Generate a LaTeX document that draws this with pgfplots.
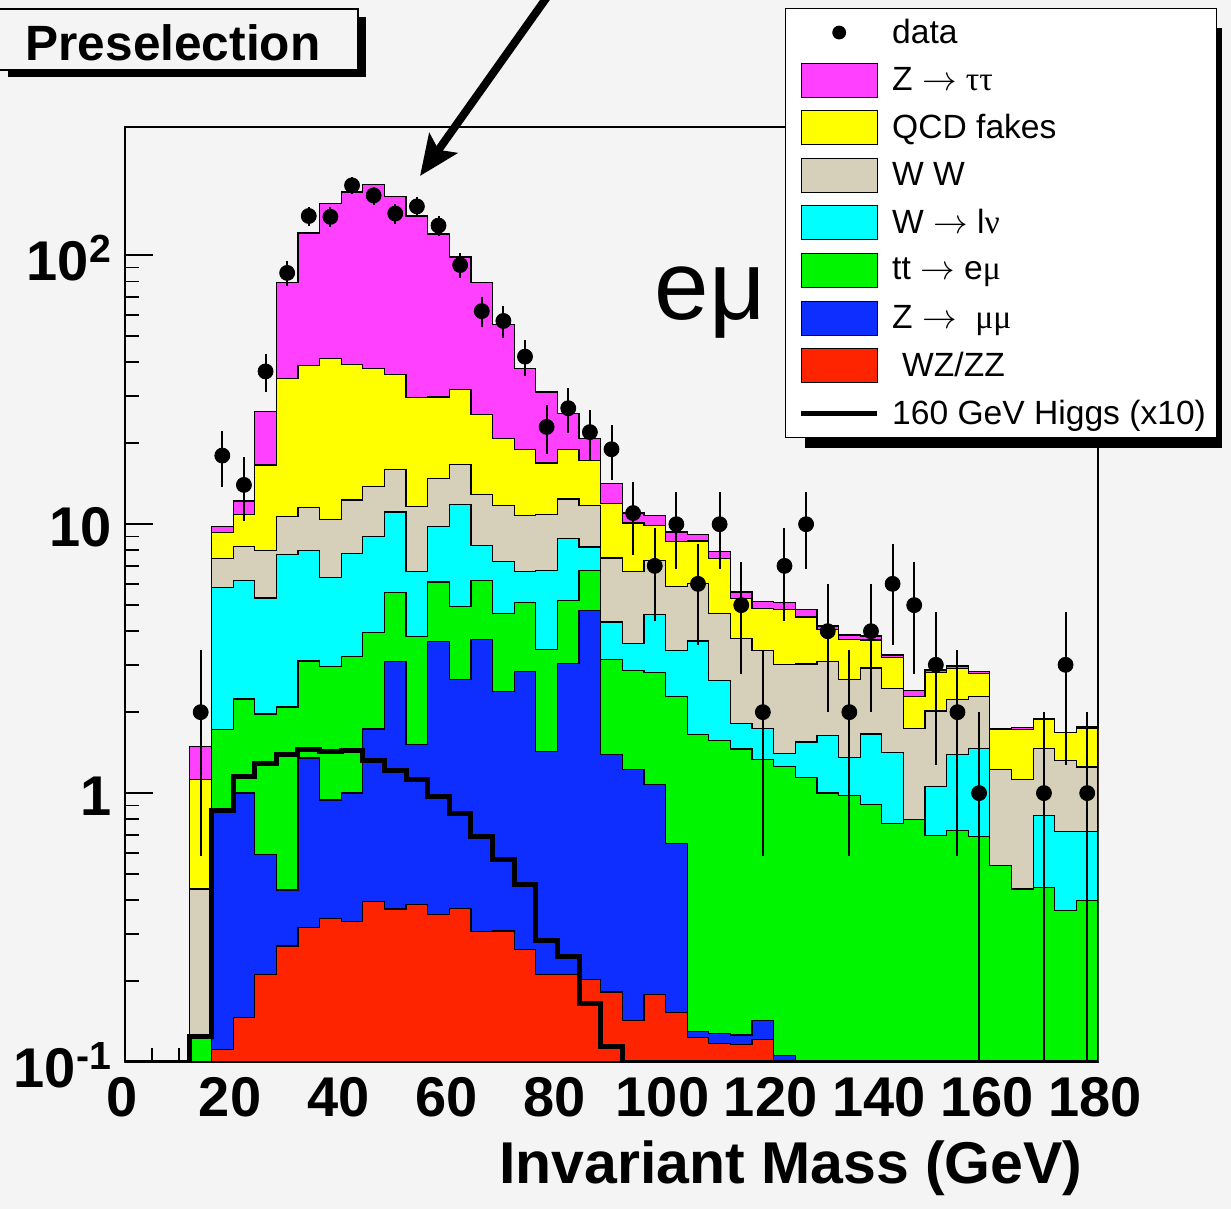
\documentclass[border=0pt]{standalone}
\usepackage{fontspec}
\setmainfont{Liberation Sans}
\newfontfamily\grk{Liberation Serif}
\usepackage{pgfplots}
\usepackage{pgfplotstable}
\pgfplotsset{compat=1.18}
\usetikzlibrary{arrows.meta}

\definecolor{bgcol}{RGB}{244,244,244}
\definecolor{cmag}{RGB}{255,64,255}
\definecolor{cyel}{RGB}{255,255,0}
\definecolor{ctan}{RGB}{214,207,185}
\definecolor{ccyan}{RGB}{0,255,255}
\definecolor{cgreen}{RGB}{0,245,0}
\definecolor{cblue}{RGB}{13,46,255}
\definecolor{cred}{RGB}{255,36,0}

% stacked (cumulative) tops per 4 GeV bin, x = left edge; 0.05 = empty (below axis)
\pgfplotstableread{
x   mag   yel   tan   cyan  green blue  red   higgs
0   0.05  0.05  0.05  0.05  0.05  0.05  0.05  0.1
4   0.05  0.05  0.05  0.05  0.05  0.05  0.05  0.1
8   0.05  0.05  0.05  0.05  0.05  0.05  0.05  0.1
12  1.49  1.12  0.44  0.124 0.124 0.05  0.05  0.124
16  9.83  9.32  7.46  5.82  1.72  0.877 0.111 0.865
20  12.2  10.9  8.28  6.16  2.24  1.00  0.146 1.15
24  26.2  16.6  7.96  5.32  1.97  0.592 0.211 1.29
28  79.2  34.8  10.7  7.72  2.09  0.436 0.270 1.39
32  121   38.8  11.5  8.00  3.10  1.35  0.316 1.45
36  156   41.2  10.4  6.32  2.95  0.942 0.342 1.43
40  172   39.3  12.3  7.78  3.23  1.00  0.334 1.44
44  183   37.9  13.8  8.97  3.95  1.73  0.395 1.32
48  166   36.1  16.0  11.1  5.59  3.08  0.371 1.21
52  140   29.5  11.6  6.65  3.83  1.52  0.386 1.12
56  120   29.7  14.8  9.83  6.10  3.66  0.353 0.969
60  98.6  31.7  16.7  11.8  4.93  2.65  0.373 0.843
64  79.2  25.6  12.9  8.35  6.17  3.73  0.305 0.690
68  55.3  20.8  11.7  7.26  4.66  2.38  0.307 0.564
72  37.9  19.0  10.8  6.67  5.11  2.84  0.262 0.457
76  31.0  16.9  10.9  6.75  3.42  1.43  0.212 0.284
80  25.8  18.9  12.4  8.85  5.20  3.04  0.212 0.246
84  20.8  17.3  11.7  8.23  6.75  4.76  0.203 0.165
88  14.2  11.9  7.49  4.33  3.14  1.39  0.182 0.114
92  11.0  10.1  6.65  3.60  2.85  1.22  0.143 0.1
96  10.8  9.92  7.35  4.60  2.81  1.08  0.178 0.1
100 9.36  8.60  5.88  3.39  2.28  0.648 0.153 0.1
104 9.13  8.66  6.03  3.68  1.65  0.130 0.123 0.1
108 7.94  7.46  4.66  2.63  1.57  0.128 0.117 0.1
112 5.60  5.28  3.76  1.81  1.46  0.126 0.116 0.1
116 5.16  4.86  3.38  1.74  1.33  0.143 0.121 0.1
120 5.13  4.81  3.01  1.40  1.26  0.106 0.05  0.1
124 4.82  4.52  3.02  1.55  1.14  0.05  0.05  0.1
128 4.18  4.06  3.08  1.64  1.00  0.05  0.05  0.1
132 3.87  3.73  2.65  1.36  0.977 0.05  0.05  0.1
136 3.84  3.71  2.92  1.66  0.908 0.05  0.05  0.1
140 3.26  3.20  2.45  1.42  0.772 0.05  0.05  0.1
144 2.40  2.28  1.74  0.800 0.800 0.05  0.05  0.1
148 2.87  2.81  2.02  1.06  0.694 0.05  0.05  0.1
152 2.97  2.91  2.23  1.39  0.724 0.05  0.05  0.1
156 2.84  2.79  2.29  1.47  0.688 0.05  0.05  0.1
160 1.73  1.72  1.22  0.537 0.537 0.05  0.05  0.1
164 1.75  1.72  1.12  0.440 0.440 0.05  0.05  0.1
168 1.90  1.88  1.47  0.823 0.445 0.05  0.05  0.1
172 1.68  1.675 1.32  0.722 0.365 0.05  0.05  0.1
176 1.76  1.74  1.25  0.722 0.400 0.05  0.05  0.1
180 1.76  1.74  1.25  0.722 0.400 0.05  0.05  0.1
}\stack

% data counts at bin centres, Poisson errors
\pgfplotstableread{
x   n    ep     em
14  2    1.414  1.414
18  18   4.243  4.243
22  14   3.742  3.742
26  37   6.083  6.083
30  86   9.274  9.274
34  140  11.83  11.83
38  139  11.79  11.79
42  182  13.49  13.49
46  167  12.92  12.92
50  143  11.96  11.96
54  152  12.33  12.33
58  129  11.36  11.36
62  92   9.592  9.592
66  62   7.874  7.874
70  57   7.550  7.550
74  42   6.481  6.481
78  23   4.796  4.796
82  27   5.196  5.196
86  22   4.690  4.690
90  19   4.359  4.359
94  11   3.317  3.317
98  7    2.646  2.646
102 10   3.162  3.162
106 6    2.449  2.449
110 10   3.162  3.162
114 5    2.236  2.236
118 2    1.414  1.414
122 7    2.646  2.646
126 10   3.162  3.162
130 4    2.000  2.000
134 2    1.414  1.414
138 4    2.000  2.000
142 6    2.449  2.449
146 5    2.236  2.236
150 3    1.732  1.732
154 2    1.414  1.414
158 1    1.000  0.999
170 1    1.000  0.999
174 3    1.732  1.732
178 1    1.000  0.999
}\data

\pgfplotsset{
  swatch/.style={legend image code/.code={
      \path[draw=none,fill=none] (0pt,-11.9pt) rectangle (44pt,11.9pt);
      \draw[fill=#1, line width=0.5pt] (3pt,-8.5pt) rectangle (41pt,8.5pt);}},
  histo/.style={const plot mark left, draw=black, line width=0.6pt, fill=#1, forget plot},
}

\begin{document}
\begin{tikzpicture}
% frame in pixel units of the reference (1 px = 0.5pt), origin at axis corner
\begin{scope}[x=0.5pt,y=-0.5pt,shift={(-62.5pt,531pt)}]
  \fill[bgcol] (0,0) rectangle (1231,1209);
  \fill[black] (805,28) rectangle (1222,448);
  \fill[black] (8,17) rectangle (366,77);
  \filldraw[fill=bgcol, draw=black, line width=0.6pt] (-2,9) rectangle (358,70);
  \node[font=\fontsize{24.8}{26}\selectfont\bfseries] at (173,43) {Preselection};
\end{scope}

\begin{axis}[
  at={(0,0)}, anchor=south west,
  scale only axis, width=486.5pt, height=467.5pt,
  xmin=0, xmax=180, ymode=log, ymin=0.1, ymax=300,
  log origin=infty,
  tick pos=left, tick align=inside,
  major tick length=14pt, minor tick length=7pt,
  axis line style={line width=0.75pt},
  every tick/.style={black, line width=0.8pt},
  xtick={0,20,...,180}, minor x tick num=3,
  xticklabels={0,20,40,60,80,100,120,140,160,180},
  ytick={0.1,1,10,100},
  yticklabels={10\textsuperscript{-1},1,10,10\textsuperscript{2}},
  tick label style={font=\fontsize{28}{30}\selectfont\bfseries},
  xticklabel style={yshift=-4pt, xshift=-1.5pt},
  yticklabel style={xshift=-3pt, yshift=-1.5pt},
  xlabel={Invariant Mass (GeV)},
  xlabel style={font=\fontsize{29.5}{31}\selectfont\bfseries,
    at={(rel axis cs:0.9915,0)}, anchor=base east, yshift=-60.5pt},
  legend style={at={(0.678,1.127)}, anchor=north west, fill=white,
    draw=black, line width=0.5pt, inner xsep=5pt, inner ysep=0pt,
    row sep=0pt, column sep=4pt, font=\fontsize{16.8}{20}\selectfont,
    nodes={inner sep=0.5pt}},
  legend cell align=left,
]
\addlegendimage{legend image code/.code={
    \path[draw=none,fill=none] (0pt,-11.9pt) rectangle (44pt,11.9pt);
    \fill[black] (22pt,0pt) circle (3.2pt);}}
\addlegendentry{data}
\addlegendimage{swatch=cmag}
\addlegendentry{Z $\rightarrow$ {\grk ττ}}
\addlegendimage{swatch=cyel}
\addlegendentry{QCD fakes}
\addlegendimage{swatch=ctan}
\addlegendentry{W W}
\addlegendimage{swatch=ccyan}
\addlegendentry{W $\rightarrow$ l{\grk ν}}
\addlegendimage{swatch=cgreen}
\addlegendentry{tt $\rightarrow$ e{\grk μ}}
\addlegendimage{swatch=cblue}
\addlegendentry{Z $\rightarrow$ \ {\grk μμ}}
\addlegendimage{swatch=cred}
\addlegendentry{\hspace{5pt}WZ/ZZ}
\addlegendimage{legend image code/.code={
    \path[draw=none,fill=none] (0pt,-11.9pt) rectangle (44pt,11.9pt);
    \draw[black, line width=2.5pt] (3pt,0pt) -- (41pt,0pt);}}
\addlegendentry{160 GeV Higgs (x10)}

\addplot[histo=cmag]   table[x=x, y=mag]   {\stack} \closedcycle;
\addplot[histo=cyel]   table[x=x, y=yel]   {\stack} \closedcycle;
\addplot[histo=ctan]   table[x=x, y=tan]   {\stack} \closedcycle;
\addplot[histo=ccyan]  table[x=x, y=cyan]  {\stack} \closedcycle;
\addplot[histo=cgreen] table[x=x, y=green] {\stack} \closedcycle;
\addplot[histo=cblue]  table[x=x, y=blue]  {\stack} \closedcycle;
\addplot[histo=cred]   table[x=x, y=red]   {\stack} \closedcycle;

\addplot[const plot mark left, black, line width=2.5pt, forget plot]
  table[x=x, y=higgs] {\stack};

\addplot[only marks, mark=*, mark size=3.75pt, black, forget plot,
  error bars/.cd, y dir=both, y explicit,
  error bar style={line width=1pt}, error mark=none]
  table[x=x, y=n, y error plus=ep, y error minus=em] {\data};
\end{axis}

\begin{scope}[x=0.5pt,y=-0.5pt,shift={(-62.5pt,531pt)}]
  \draw[overlay, line width=4pt, -{Stealth[length=20pt,width=17pt,inset=4pt]}]
    (552,-10) -- (420,176);
  \node[anchor=base, font=\fontsize{49}{50}\selectfont] at (710,320) {eμ};
  \pgfresetboundingbox
  \useasboundingbox (0,0) rectangle (1231,1209);
\end{scope}
\end{tikzpicture}
\end{document}
